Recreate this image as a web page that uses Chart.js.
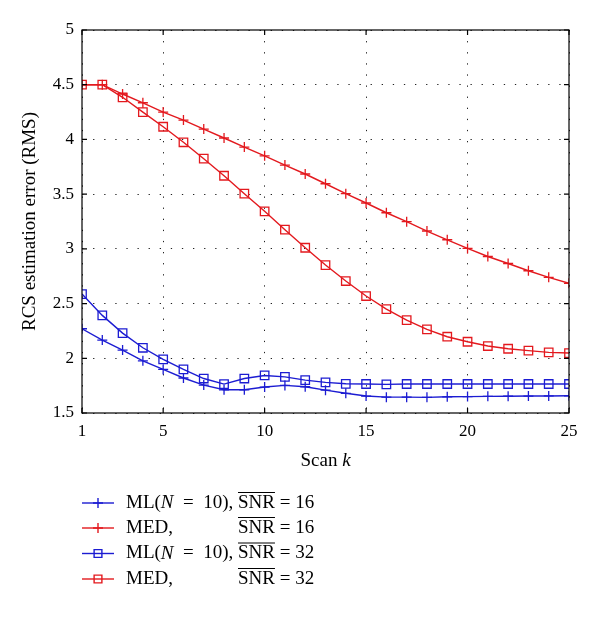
<!DOCTYPE html>
<html>
<head>
<meta charset="utf-8">
<script src="https://cdn.jsdelivr.net/npm/chart.js@4.4.1/dist/chart.umd.min.js"></script>
<style>
  body { margin: 0; background: #fff; }
  #wrap { width: 600px; height: 622px; }
</style>
</head>
<body>
<div id="wrap"><canvas id="rcsChart" width="600" height="622"></canvas></div>
<script>
const scans = [1,2,3,4,5,6,7,8,9,10,11,12,13,14,15,16,17,18,19,20,21,22,23,24,25];
const xTicks = [1, 5, 10, 15, 20, 25];

const ml16 = [2.27,2.166,2.075,1.977,1.898,1.82,1.755,1.712,1.712,1.737,1.752,1.74,1.709,1.68,1.655,1.645,1.645,1.643,1.648,1.65,1.652,1.653,1.655,1.656,1.657];
const med16 = [4.50,4.50,4.415,4.335,4.25,4.177,4.095,4.013,3.93,3.85,3.766,3.684,3.595,3.504,3.419,3.33,3.248,3.163,3.083,3.004,2.93,2.866,2.80,2.74,2.685];
const ml32 = [2.587,2.392,2.23,2.096,1.99,1.898,1.815,1.764,1.815,1.843,1.83,1.8,1.78,1.767,1.765,1.762,1.765,1.765,1.765,1.765,1.765,1.765,1.765,1.765,1.765];
const med32 = [4.50,4.50,4.385,4.25,4.116,3.974,3.824,3.668,3.504,3.343,3.175,3.01,2.852,2.706,2.569,2.45,2.349,2.264,2.197,2.151,2.112,2.087,2.07,2.054,2.048];

// legend text: method part (text, italic) and SNR value
const legendMethod = [
  [['ML(', false], ['N', true], ['\u2002=\u200210),', false]],
  [['MED,', false]],
  [['ML(', false], ['N', true], ['\u2002=\u200210),', false]],
  [['MED,', false]]
];
const legendSnr = [16, 16, 32, 32];

const RED = '#e3191e';
const BLUE = '#1c1cd2';
const FONT = 'Liberation Serif, Times New Roman, serif';

function series(values) {
  return values.map((v, i) => ({ x: scans[i], y: v }));
}

function makeSet(values, color, style) {
  return {
    data: series(values),
    borderColor: color,
    backgroundColor: 'rgba(0,0,0,0)',
    borderWidth: 1.4,
    pointStyle: style,
    pointRadius: style === 'rect' ? 6 : 5,
    pointBorderColor: color,
    pointBorderWidth: 1.3,
    pointBackgroundColor: 'rgba(0,0,0,0)',
    tension: 0
  };
}

// frame with inward ticks, x title, legend under the axes
const framePlugin = {
  id: 'frame',
  afterDraw(chart) {
    const ctx = chart.ctx;
    const a = chart.chartArea;
    const xs = chart.scales.x, ys = chart.scales.y;
    ctx.save();
    ctx.strokeStyle = '#000';
    ctx.lineWidth = 1.2;
    ctx.strokeRect(a.left, a.top, a.right - a.left, a.bottom - a.top);
    ctx.beginPath();
    xs.ticks.forEach(t => {
      const px = xs.getPixelForValue(t.value);
      ctx.moveTo(px, a.bottom); ctx.lineTo(px, a.bottom - 5);
      ctx.moveTo(px, a.top); ctx.lineTo(px, a.top + 5);
    });
    ys.ticks.forEach(t => {
      const py = ys.getPixelForValue(t.value);
      ctx.moveTo(a.left, py); ctx.lineTo(a.left + 5, py);
      ctx.moveTo(a.right, py); ctx.lineTo(a.right - 5, py);
    });
    ctx.stroke();

    // x axis title "Scan k"
    ctx.fillStyle = '#000';
    ctx.textBaseline = 'middle';
    ctx.font = '19px ' + FONT;
    const w1 = ctx.measureText('Scan ').width;
    ctx.font = 'italic 19px ' + FONT;
    const w2 = ctx.measureText('k').width;
    const tx = (a.left + a.right) / 2 - (w1 + w2) / 2;
    ctx.font = '19px ' + FONT;
    ctx.fillText('Scan ', tx, 461);
    ctx.font = 'italic 19px ' + FONT;
    ctx.fillText('k', tx + w1, 461);

    // legend
    const rowY = [503, 528, 553.5, 579];
    chart.data.datasets.forEach((ds, i) => {
      const y = rowY[i];
      ctx.strokeStyle = ds.borderColor;
      ctx.lineWidth = 1.4;
      ctx.beginPath();
      ctx.moveTo(82, y); ctx.lineTo(114, y);
      ctx.stroke();
      ctx.fillStyle = 'rgba(0,0,0,0)';
      Chart.helpers.drawPoint(ctx, {
        pointStyle: ds.pointStyle,
        radius: ds.pointStyle === 'rect' ? 5.5 : 5,
        borderWidth: 1.3
      }, 98, y);
      ctx.fillStyle = '#000';
      let x = 126;
      legendMethod[i].forEach(([txt, it]) => {
        ctx.font = (it ? 'italic ' : '') + '19px ' + FONT;
        ctx.fillText(txt, x, y);
        x += ctx.measureText(txt).width;
      });
      ctx.font = '19px ' + FONT;
      const sx = 238;
      ctx.fillText('SNR', sx, y);
      const w = ctx.measureText('SNR').width;
      ctx.fillText(' = ' + legendSnr[i], sx + w, y);
      ctx.strokeStyle = '#000';
      ctx.lineWidth = 1;
      ctx.beginPath();
      ctx.moveTo(sx, y - 10.5); ctx.lineTo(sx + w, y - 10.5);
      ctx.stroke();
    });
    ctx.restore();
  }
};

new Chart(document.getElementById('rcsChart'), {
  type: 'line',
  data: {
    datasets: [
      makeSet(ml16, BLUE, 'cross'),
      makeSet(med16, RED, 'cross'),
      makeSet(ml32, BLUE, 'rect'),
      makeSet(med32, RED, 'rect')
    ]
  },
  options: {
    responsive: false,
    animation: false,
    devicePixelRatio: 1,
    layout: { padding: { left: 0, right: 31, top: 30, bottom: 149 } },
    plugins: { legend: { display: false }, tooltip: { enabled: false } },
    scales: {
      x: {
        type: 'linear',
        min: 1,
        max: 25,
        afterBuildTicks: (s) => { s.ticks = xTicks.map(v => ({ value: v })); },
        afterFit: (s) => { s.height = 60; },
        grid: { color: '#222', lineWidth: 1, drawTicks: false },
        border: { display: false, dash: [1.3, 9.8] },
        ticks: { color: '#000', padding: 8, maxRotation: 0, font: { family: FONT, size: 17 } }
      },
      y: {
        min: 1.5,
        max: 5,
        ticks: {
          stepSize: 0.5, color: '#000', padding: 8, font: { family: FONT, size: 17 },
          callback: (v) => String(+v.toFixed(1))
        },
        afterFit: (s) => { s.width = 82; },
        grid: { color: '#222', lineWidth: 1, drawTicks: false },
        border: { display: false, dash: [1.3, 9.8] },
        title: { display: true, text: 'RCS estimation error (RMS)', color: '#000', padding: { top: 19, bottom: 0 }, font: { family: FONT, size: 19 } }
      }
    }
  },
  plugins: [framePlugin]
});
</script>
</body>
</html>
